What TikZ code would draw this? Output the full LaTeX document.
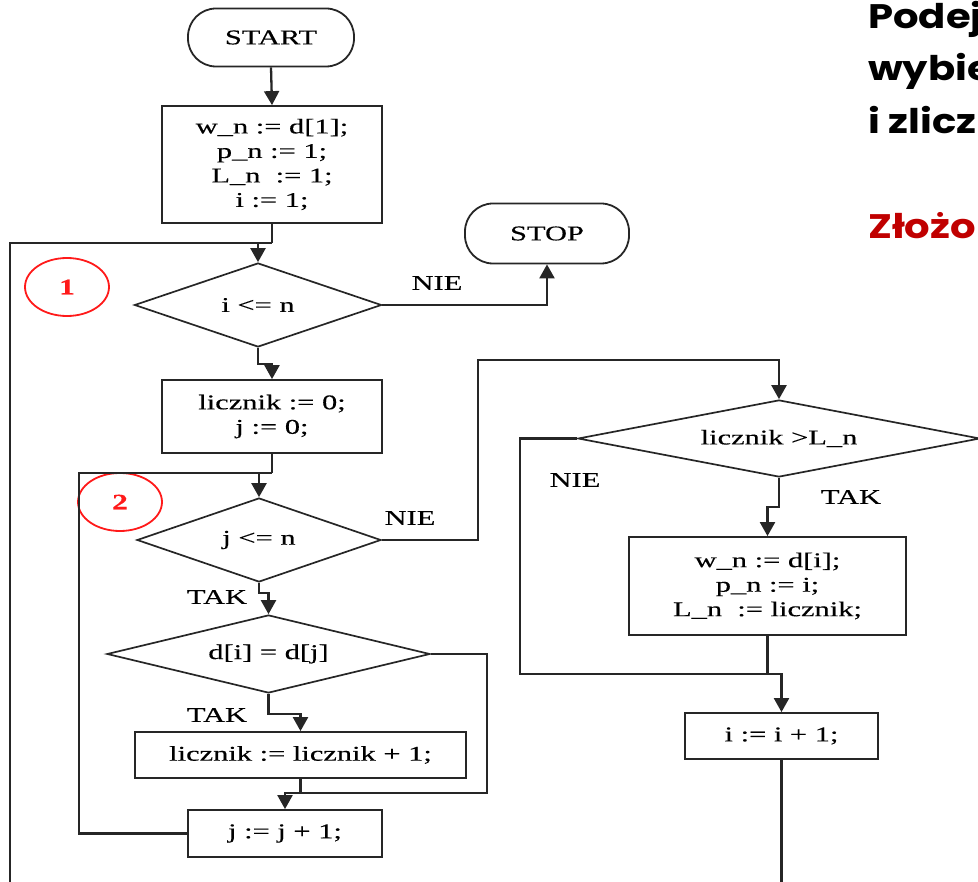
\documentclass[tikz,border=0pt]{standalone}
\usepackage{fontspec}
\setmainfont{Liberation Serif}[FakeStretch=1.45, FakeBold=0.3]
\newfontfamily\headfont{Poppins}[FakeStretch=1.18]
\usetikzlibrary{shapes.geometric,arrows.meta}

\definecolor{linegray}{HTML}{262626}
\definecolor{headred}{HTML}{C00000}
\definecolor{markred}{HTML}{FF1A1A}

\tikzset{
  flow/.style={draw=linegray, line width=2.3pt},
  arr/.style={flow, -{Triangle[width=15pt,length=14pt]}},
  procbox/.style={draw=black!85, line width=1.8pt, fill=white, inner sep=0pt,
    align=center, font=\fontsize{21}{24.5}\selectfont},
  termbox/.style={procbox, rounded corners=28pt},
  decision/.style={draw=black!85, line width=1.7pt, shape=diamond, inner sep=0pt,
    font=\fontsize{21}{24}\selectfont},
  lbl/.style={font=\fontsize{21}{24}\selectfont, inner sep=0pt},
  loopmark/.style={draw=markred, line width=1.8pt, ellipse, inner sep=0pt,
    minimum width=84pt, minimum height=58pt, text=markred,
    font=\fontsize{22}{24}\selectfont\bfseries},
  headline/.style={anchor=base west, inner sep=0pt,
    font=\headfont\bfseries\fontsize{34}{40}\selectfont},
}

\begin{document}
\begin{tikzpicture}[x=1pt, y=-1pt]
\useasboundingbox (0,0) rectangle (978,882);
\clip (0,0) rectangle (978,882);

% heading text at the right edge
\node[headline] (h1) at (868,29) {Podej};
\node[headline] (h2) at (868,81) {wybie};
\node[headline] (h3) at (868,134) {i zlicz};
\node[headline, text=headred] (h4) at (868,239) {Złożo};

% blocks of the flowchart
\node[termbox, minimum width=166pt, minimum height=58pt] (start) at (271,37.5) {START};
\node[procbox, minimum width=220pt, minimum height=117pt] (init) at (272,164.5)
  {w\_n := d[1];\\ p\_n := 1;\\ L\_n \ := 1;\\ i := 1;};
\node[decision, aspect=2.94, minimum width=247pt, minimum height=84pt] (testi) at (258,305) {i <= n};
\node[termbox, minimum width=164pt, minimum height=60pt] (stop) at (547,233.5) {STOP};
\node[procbox, minimum width=220pt, minimum height=73pt] (reset) at (272,416.5)
  {licznik := 0;\\ j := 0;};
\node[decision, aspect=2.9, minimum width=244pt, minimum height=84pt] (testj) at (259,540) {j <= n};
\node[decision, aspect=4.14, minimum width=323pt, minimum height=78pt] (compare) at (268.5,654) {d[i] = d[j]};
\node[procbox, minimum width=331pt, minimum height=46pt] (incr) at (300.5,755)
  {licznik := licznik + 1;};
\node[procbox, minimum width=194pt, minimum height=47pt] (nextj) at (285,833.5) {j := j + 1;};
\node[decision, aspect=5.2, minimum width=402pt, minimum height=77pt] (testmax) at (779,438.5) {licznik >L\_n};
\node[procbox, minimum width=277pt, minimum height=98pt] (update) at (767.5,586)
  {w\_n := d[i];\\ p\_n := i;\\ L\_n \ := licznik;};
\node[procbox, minimum width=193pt, minimum height=46pt] (nexti) at (781.5,736) {i := i + 1;};

% loop markers
\node[loopmark] (m1) at (67,287) {1};
\node[loopmark] (m2) at (120,502) {2};

% branch labels
\node[lbl] (l1) at (437,283) {NIE};
\node[lbl] (l2) at (410,518) {NIE};
\node[lbl] (l3) at (217,597) {TAK};
\node[lbl] (l4) at (217,715) {TAK};
\node[lbl] (l5) at (575,480) {NIE};
\node[lbl] (l6) at (851,497) {TAK};

% junction points
\coordinate (outerjoin) at (272,243);
\coordinate (outerfoot) at (10,890);
\coordinate (innerjoin) at (272,473);
\coordinate (innercorner) at (79,473);
\coordinate (bridge) at (478,360);
\coordinate (rightj) at (487,793);
\coordinate (mergej) at (300.5,793);
\coordinate (leftcorner) at (520,674);
\coordinate (mergei) at (767.5,674);
\coordinate (nextifoot) at (781.5,890);

% connectors
\draw[arr] (start.south) -- (init.north);
\draw[flow] (init.south) -- (outerjoin);
\draw[flow] (outerfoot) |- (outerjoin);
\draw[arr] (testi.north |- outerjoin) -- (testi.north);
\draw[arr] (testi.east) -| (stop.south);
\draw[arr] (testi.south) -- ++(0,16) -| (reset.north);

\draw[flow] (reset.south) -- (innerjoin);
\draw[flow] (nextj.west) -| (innercorner) -- (innerjoin);
\draw[arr] (testj.north |- innerjoin) -- (testj.north);
\draw[arr] (testj.east) -| (bridge) -| (testmax.north);
\draw[arr] (testj.south) -- ++(0,10) -| (compare.north);

\draw[arr] (compare.south) -- ++(0,20) -| (incr.north);
\draw[flow] (compare.east) -| (rightj) -- (mergej);
\draw[flow] (incr.south) -- (mergej);
\draw[arr] (mergej) -| (nextj.north);

\draw[arr] (testmax.south) -- ++(0,29) -| (update.north);
\draw[flow] (testmax.west) -| (leftcorner) -- (mergei);
\draw[flow] (update.south) -- (mergei);
\draw[arr] (mergei) -| (nexti.north);
\draw[flow] (nexti.south) -- (nextifoot);
\end{tikzpicture}
\end{document}
